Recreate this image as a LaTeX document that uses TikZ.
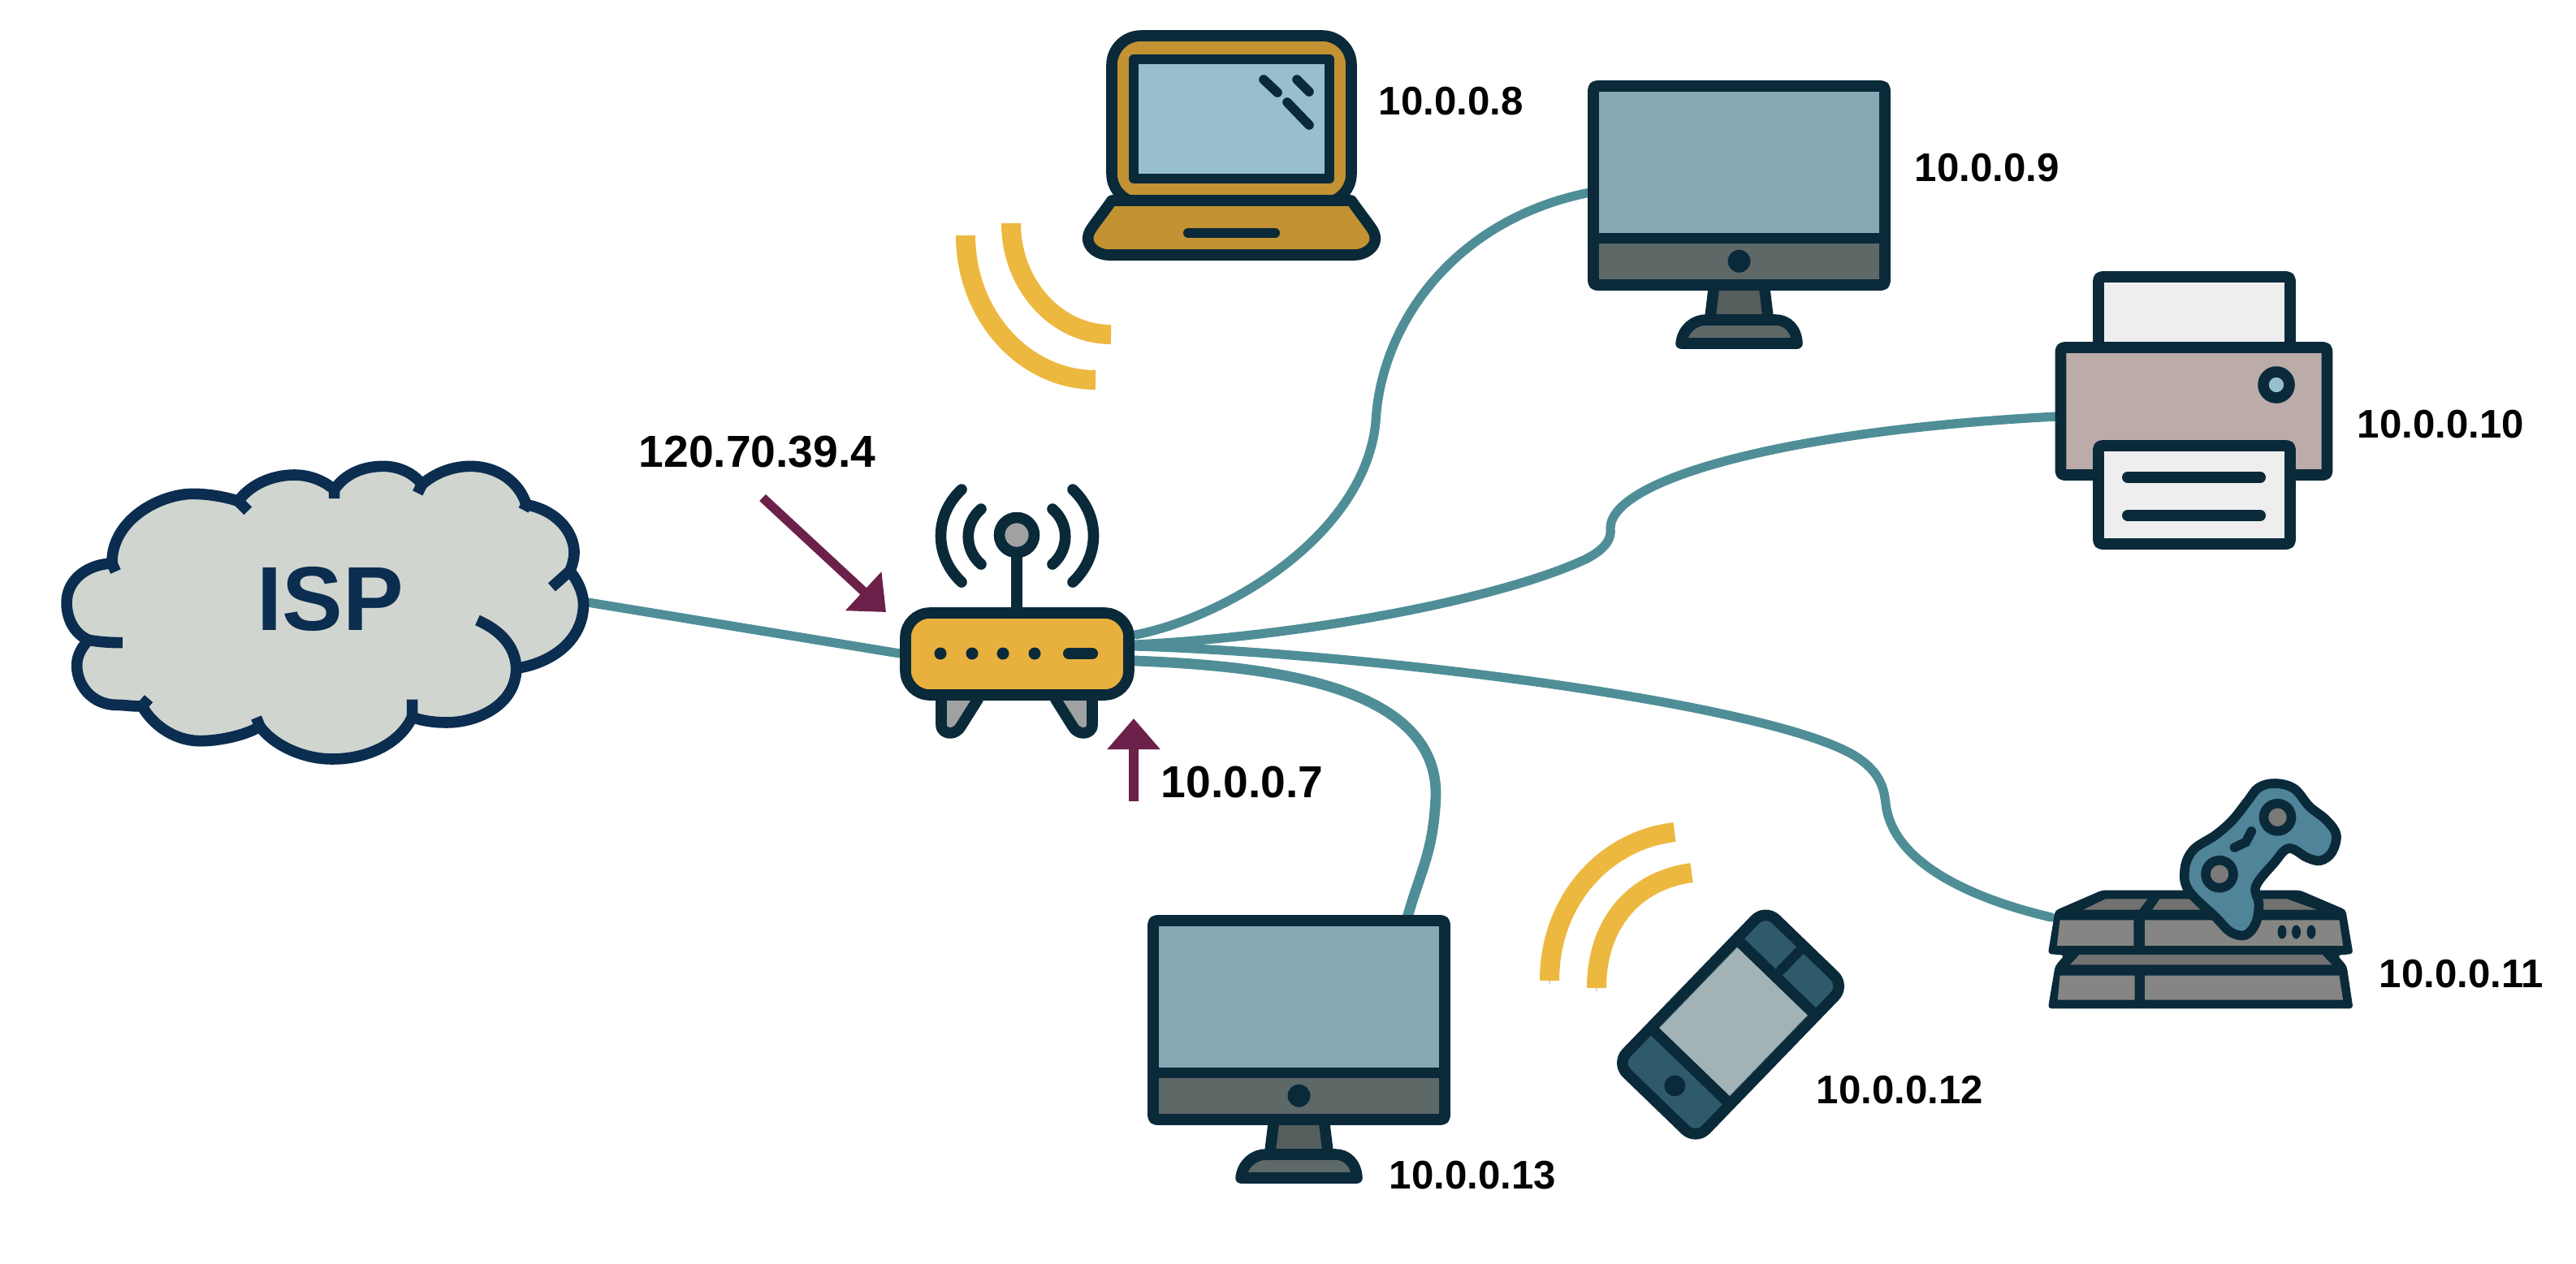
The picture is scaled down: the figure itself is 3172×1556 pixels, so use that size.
\documentclass[tikz,border=0pt]{standalone}
\usepackage{fontspec}
\setmainfont{Liberation Sans}
\usetikzlibrary{arrows.meta}
\definecolor{ink}{HTML}{0A2A3A}
\definecolor{navy}{HTML}{0B2D50}
\definecolor{wire}{HTML}{4F8E97}
\definecolor{gold}{HTML}{EDB83F}
\definecolor{plum}{HTML}{6B2149}
\definecolor{cloudfill}{HTML}{D0D5CF}
\definecolor{routerfill}{HTML}{E8B03C}
\definecolor{metal}{HTML}{A0A2A2}
\definecolor{lapfill}{HTML}{C39233}
\definecolor{lapscreen}{HTML}{97BFCE}
\definecolor{monscreen}{HTML}{86A9B3}
\definecolor{monbar}{HTML}{5E6867}
\definecolor{printbody}{HTML}{BBACAA}
\definecolor{paper}{HTML}{EEEEEE}
\definecolor{phonepanel}{HTML}{2F5A6B}
\definecolor{phonescreen}{HTML}{A3B3B5}
\definecolor{deck}{HTML}{858684}
\definecolor{pad}{HTML}{4F8499}
\definecolor{stick}{HTML}{7A7A78}
\tikzset{
  icon/.style={draw=ink,line width=3.4pt,line join=round},
  thin icon/.style={draw=ink,line width=2.9pt,line cap=round},
  wirepath/.style={draw=wire,line width=2.8pt,line cap=round},
  softshadow/.style={preaction={draw=black!14,transform canvas={yshift=-1pt}}},
  waves/.style={draw=gold,line width=6pt,softshadow},
  pointer/.style={draw=plum,line width=2.8pt,-{Triangle[length=9.5pt,width=15.75pt]}},
  ip/.style={anchor=west,inner sep=0pt,text=black!90!ink,font=\fontsize{12.3}{14}\selectfont\bfseries},
  ip big/.style={ip,font=\fontsize{13.8}{16}\selectfont\bfseries},
  monitor/.pic={
    \fill[monscreen] (6,6) rectangle (365,193);
    \fill[monbar] (6,193) rectangle (365,251);
    \fill[monbar!90!black] (154,257) -- (150,290) -- (221,290) -- (217,257) -- cycle;
    \draw[icon] (154,257) -- (150,290) (221,290) -- (217,257);
    \draw[icon,fill=monbar] (114,323) .. controls (116,305) and (130,294) .. (145,294) -- (230,294) .. controls (245,294) and (256,305) .. (257,323) -- cycle;
    \draw[icon,rounded corners=1pt] (6,6) rectangle (365,251);
    \draw[icon] (6,193.5) -- (365,193.5);
    \fill[ink] (185.5,221.7) circle (14);
  }
}
\begin{document}
\begin{tikzpicture}[x=0.25pt,y=-0.25pt]
\useasboundingbox (0,0) rectangle (3172,1556);
\fill[white] (0,0) rectangle (3172,1556);

% named ends of the connectors
\coordinate (ispport) at (724,742);
\coordinate (wanport) at (1108,805);
\coordinate (lan1) at (1398,782);
\coordinate (lan2) at (1398,794);
\coordinate (lan3) at (1398,796);
\coordinate (lan4) at (1398,814);
\coordinate (mon1port) at (1958,237);
\coordinate (printport) at (2533,513);
\coordinate (gameport) at (2526,1130);
\coordinate (mon2port) at (1733,1130);

% connectors
\draw[wirepath] (ispport) -- (wanport);
\draw[wirepath] (lan1) .. controls (1510,760) and (1680,660) .. (1694,520) .. controls (1700,400) and (1790,270) .. (mon1port);
\draw[wirepath] (lan2) .. controls (1600,784) and (1840,740) .. (1950,690) .. controls (1975,678) and (1985,665) .. (1983,650) .. controls (1985,590) and (2200,530) .. (printport);
\draw[wirepath] (lan3) .. controls (1700,805) and (2200,870) .. (2290,935) .. controls (2318,955) and (2320,975) .. (2322,990) .. controls (2330,1060) and (2420,1105) .. (gameport);
\draw[wirepath,line width=3.2pt,softshadow] (lan4) .. controls (1550,820) and (1770,840) .. (1768,980) .. controls (1765,1050) and (1750,1070) .. (mon2port);

% cloud
\begin{scope}[shift={(50,540)},xscale=0.4464,yscale=0.3333]
\draw[draw=navy,line width=3.4pt,fill=cloudfill,line join=round,preaction={draw=black!16,transform canvas={yshift=-1.6pt}}]
 (197,462) .. controls (195,300) and (330,205) .. (420,205) .. controls (470,205) and (520,220) .. (545,232)
 .. controls (585,160) and (650,135) .. (700,135) .. controls (750,135) and (790,165) .. (810,190)
 .. controls (840,130) and (890,103) .. (945,103) .. controls (990,103) and (1030,130) .. (1052,170)
 .. controls (1090,125) and (1140,103) .. (1185,103) .. controls (1260,103) and (1320,160) .. (1340,245)
 .. controls (1420,265) and (1470,340) .. (1472,420) .. controls (1472,440) and (1468,465) .. (1460,490)
 .. controls (1490,540) and (1500,590) .. (1497,630) .. controls (1490,750) and (1410,830) .. (1312,850)
 .. controls (1312,980) and (1210,1050) .. (1120,1050) .. controls (1090,1050) and (1055,1045) .. (1025,1030)
 .. controls (990,1130) and (900,1185) .. (805,1185) .. controls (720,1185) and (640,1130) .. (605,1065)
 .. controls (560,1100) and (490,1118) .. (440,1118) .. controls (370,1118) and (310,1060) .. (280,990)
 .. controls (250,990) and (230,985) .. (210,985) .. controls (140,985) and (100,910) .. (100,840) .. controls (100,800) and (115,770) .. (132,745)
 .. controls (90,720) and (70,660) .. (72,600) .. controls (75,520) and (130,465) .. cycle;
\draw[draw=navy,line width=3.4pt]
 (545,232) -- (572,268)
 (810,190) -- (810,222)
 (1052,170) -- (1040,202)
 (1340,245) -- (1332,265)
 (1460,490) -- (1410,550)
 (1312,850) .. controls (1310,770) and (1270,710) .. (1205,672)
 (1025,1030) -- (1025,965)
 (605,1065) -- (595,1032)
 (280,990) -- (298,962)
 (132,745) .. controls (160,752) and (190,755) .. (226,755)
 (197,462) -- (207,492);
\end{scope}
\node[inner sep=0pt,text=navy,font=\fontsize{28}{32}\selectfont\bfseries] (isp) at (407,738) {ISP};

% router
\draw[icon,fill=metal] (1159,860) -- (1159,893) .. controls (1159,900) and (1165,903) .. (1170,903) .. controls (1175,903) and (1180,900) .. (1183,895) -- (1205,860);
\draw[icon,fill=metal] (1345,860) -- (1345,893) .. controls (1345,900) and (1339,903) .. (1334,903) .. controls (1329,903) and (1324,900) .. (1321,895) -- (1299,860);
\draw[icon,line cap=round] (1252,680) -- (1252,750);
\draw[icon,fill=metal] (1252,659) circle (21.5);
\draw[icon,line cap=round] (1208,627) .. controls (1187,645) and (1187,677) .. (1208,695);
\draw[icon,line cap=round] (1184,603) .. controls (1150,635) and (1150,685) .. (1184,717);
\draw[icon,line cap=round] (1296,627) .. controls (1317,645) and (1317,677) .. (1296,695);
\draw[icon,line cap=round] (1321,603) .. controls (1355,635) and (1355,685) .. (1321,717);
\draw[icon,fill=routerfill,rounded corners=7.5pt] (1115,755) rectangle (1390,856);
\foreach \px in {1158,1197,1235,1274} \fill[ink] (\px,805) circle (7.5);
\draw[thin icon,line width=3.5pt] (1316,805) -- (1345,805);

% laptop
\draw[icon,fill=lapfill,rounded corners=9pt] (1369,250) -- (1369,44) -- (1664,44) -- (1664,250) -- cycle;
\draw[thin icon,fill=lapscreen,line cap=butt,line join=round] (1396,73) rectangle (1637,220);
\draw[icon,fill=lapfill] (1369,247) .. controls (1360,260) and (1352,270) .. (1345,280) .. controls (1330,300) and (1350,314) .. (1365,314) -- (1668,314) .. controls (1683,314) and (1703,300) .. (1688,280) .. controls (1681,270) and (1673,260) .. (1664,247) -- cycle;
\draw[thin icon,line width=3pt] (1463,287) -- (1570,287);
\draw[thin icon] (1556,98) -- (1573,114);
\draw[thin icon] (1597,98) -- (1612,113);
\draw[thin icon] (1585,126) -- (1612,154);

% monitors
\pic at (1956,100) {monitor};
\pic at (1414,1128) {monitor};

% printer
\draw[icon,fill=paper,rounded corners=1pt] (2584,430) -- (2584,341) -- (2820,341) -- (2820,430);
\draw[icon,fill=printbody,rounded corners=1pt] (2537.5,428) rectangle (2865.5,585);
\draw[icon,fill=lapscreen] (2803,474) circle (16);
\draw[icon,fill=paper,rounded corners=1pt] (2584,549) rectangle (2820,670);
\draw[thin icon,line width=3.5pt] (2620,588) -- (2783,588);
\draw[thin icon,line width=3.5pt] (2620,635) -- (2783,635);

% console
\begin{scope}[shift={(2450,900)},xscale=0.4604,yscale=0.3333]
\fill[ink,rounded corners=1pt] (300,590) -- (830,590) -- (952,662) -- (972,825) -- (930,830) -- (955,870) -- (972,1027) -- (156,1027) -- (175,870) -- (200,830) -- (156,825) -- (175,665) -- cycle;
\fill[deck!85!black] (250,662) -- (310,622) -- (422,622) -- (400,662) -- cycle;
\fill[deck!85!black] (435,662) -- (455,622) -- (795,622) -- (875,662) -- cycle;
\fill[deck] (188,700) -- (385,700) -- (385,795) -- (180,795) -- cycle;
\fill[deck] (415,700) -- (935,700) -- (945,795) -- (415,795) -- cycle;
\fill[deck!85!black] (240,828) -- (890,828) -- (915,865) -- (215,865) -- cycle;
\fill[deck] (188,905) -- (388,905) -- (388,995) -- (182,995) -- cycle;
\fill[deck] (415,905) -- (935,905) -- (945,995) -- (415,995) -- cycle;
\draw[draw=ink,line width=2.9pt,fill=pad,line join=round] plot[smooth cycle,tension=0.6] coordinates {(765,195) (815,215) (855,280) (900,330) (927,385) (915,450) (885,480) (850,470) (800,435) (760,490) (712,575) (720,640) (712,710) (685,755) (645,745) (605,690) (532,590) (522,510) (545,440) (605,385) (650,330) (690,260) (720,210)};
\draw[thin icon] (700,372) -- (685,412) -- (655,432);
\end{scope}
\foreach \px in {2810,2827.5,2846} \fill[ink] (\px,1148) ellipse (5.5 and 8.5);
\draw[draw=ink,line width=2.9pt,fill=stick] (2804.5,1006.7) circle (17);
\draw[draw=ink,line width=2.9pt,fill=stick] (2733,1076.7) circle (17);

% phone
\begin{scope}[shift={(2131,1262)},rotate=46]
\draw[icon,fill=phonepanel,rounded corners=4.5pt] (-132,-68) rectangle (132,68);
\fill[phonescreen] (-65,-60) rectangle (75,60);
\draw[icon] (-71,-68) -- (-71,68);
\draw[icon] (81,-68) -- (81,68);
\draw[thin icon,line width=3pt] (91,-2) -- (123,-2);
\fill[ink] (-102,3) circle (13);
\end{scope}

% radio waves
\draw[waves] (1189,290) .. controls (1189,388) and (1261,468) .. (1349,468);
\draw[waves] (1245,275) .. controls (1245,350) and (1300,412) .. (1368,412);
\draw[waves] (1908,1208) .. controls (1908,1110) and (1975,1035) .. (2062,1025);
\draw[waves] (1966,1217) .. controls (1966,1140) and (2010,1085) .. (2083,1075);

% address pointers
\coordinate (wanfrom) at (939,613);
\coordinate (wanto) at (1091,754);
\coordinate (lanfrom) at (1396,987);
\coordinate (lanto) at (1396,885);
\draw[pointer] (wanfrom) -- (wanto);
\draw[pointer] (lanfrom) -- (lanto);

% labels
\node[ip] (a8) at (1697,125) {10.0.0.8};
\node[ip] (a9) at (2357,207) {10.0.0.9};
\node[ip] (a10) at (2902,523) {10.0.0.10};
\node[ip] (a11) at (2929,1200) {10.0.0.11};
\node[ip] (a12) at (2236,1343) {10.0.0.12};
\node[ip] (a13) at (1710,1448) {10.0.0.13};
\node[ip big] (a7) at (1429,963) {10.0.0.7};
\node[ip big] (wan) at (786,557) {120.70.39.4};
\end{tikzpicture}
\end{document}
